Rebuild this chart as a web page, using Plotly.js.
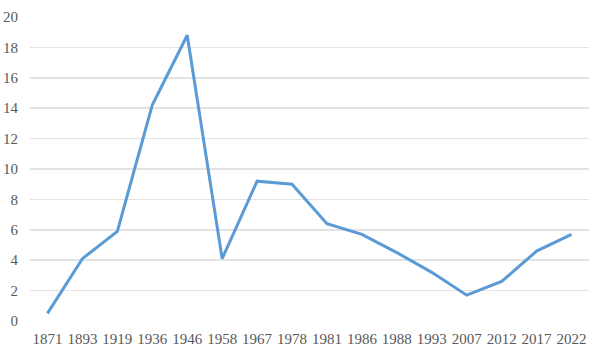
<!DOCTYPE html>
<html>
<head>
<meta charset="utf-8">
<script src="https://cdn.plot.ly/plotly-3.0.1.min.js"></script>
<style>html,body{margin:0;padding:0;background:#fff;}#chart{width:599px;height:354px;}</style>
</head>
<body>
<div id="chart"></div>
<script>
const years = ["1871","1893","1919","1936","1946","1958","1967","1978","1981","1986","1988","1993","2007","2012","2017","2022"];
const values = [0.5, 4.1, 5.9, 14.2, 18.8, 4.1, 9.2, 9.0, 6.4, 5.7, 4.5, 3.2, 1.7, 2.6, 4.6, 5.7];
const yTicks = [0, 2, 4, 6, 8, 10, 12, 14, 16, 18, 20];

Plotly.newPlot('chart', [{
  x: years,
  y: values,
  type: 'scatter',
  mode: 'lines',
  line: {color: '#5b9bd5', width: 3}
}], {
  width: 599,
  height: 354,
  margin: {l: 30, r: 10, t: 17, b: 33},
  paper_bgcolor: '#fff',
  plot_bgcolor: '#fff',
  showlegend: false,
  font: {family: 'Liberation Serif, serif', size: 15, color: '#595959'},
  xaxis: {
    type: 'category',
    range: [-0.5, 15.5],
    showgrid: false,
    zeroline: false,
    showline: false,
    ticks: '',
    ticklabelstandoff: 7,
    tickfont: {family: 'Liberation Serif, serif', size: 15, color: '#595959'}
  },
  yaxis: {
    range: [0, 20],
    tickvals: yTicks,
    ticktext: yTicks.map(String),
    showgrid: true,
    gridcolor: '#e3e3e3',
    gridwidth: 1.5,
    zeroline: false,
    showline: false,
    ticks: '',
    ticklabelstandoff: 11,
    tickfont: {family: 'Liberation Serif, serif', size: 15, color: '#595959'}
  }
}, {staticPlot: true, displayModeBar: false});
</script>
</body>
</html>
